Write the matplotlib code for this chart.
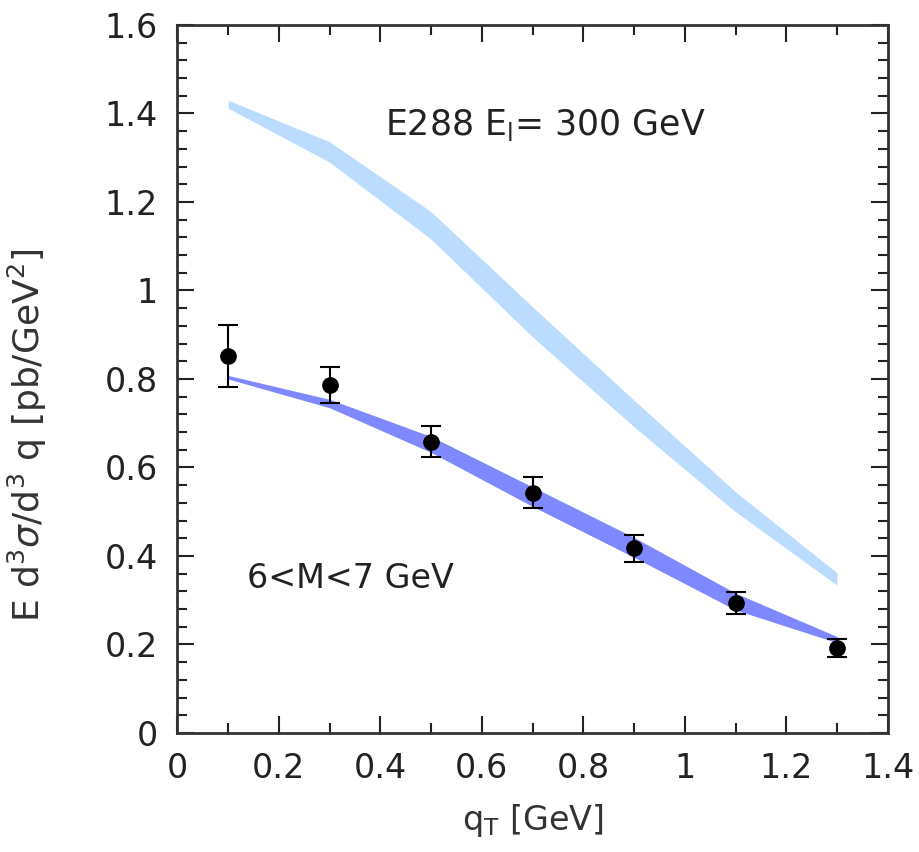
import matplotlib
matplotlib.use("Agg")
import matplotlib.pyplot as plt
from matplotlib.ticker import MultipleLocator, FuncFormatter

# data points (E288, 6<M<7 GeV)
qt = [0.1, 0.3, 0.5, 0.7, 0.9, 1.1, 1.3]
xsec = [0.852, 0.786, 0.658, 0.543, 0.417, 0.294, 0.192]
err = [0.070, 0.040, 0.035, 0.035, 0.030, 0.025, 0.020]

# theory band (dark)
band_lo = [0.800, 0.735, 0.634, 0.512, 0.397, 0.278, 0.204]
band_hi = [0.808, 0.754, 0.670, 0.556, 0.442, 0.316, 0.218]

# shifted band (light)
light_lo = [1.412, 1.290, 1.116, 0.895, 0.692, 0.500, 0.334]
light_hi = [1.430, 1.336, 1.178, 0.963, 0.752, 0.545, 0.362]

fig = plt.figure(figsize=(9.19, 8.52), dpi=100)
ax = fig.add_axes([0.193, 0.1397, 0.773, 0.831])

ax.fill_between(qt, light_lo, light_hi, color='#bcdcff', lw=0)
ax.fill_between(qt, band_lo, band_hi, color='#8088ff', lw=0)
ax.errorbar(qt, xsec, yerr=err, fmt='o', color='black', ms=11,
            elinewidth=1.5, capsize=7, capthick=1.5)

ax.set_xlim(0, 1.4)
ax.set_ylim(0, 1.6)
fmt = FuncFormatter(lambda v, p: '%g' % round(v, 2))
ax.xaxis.set_major_locator(MultipleLocator(0.2))
ax.xaxis.set_minor_locator(MultipleLocator(0.1))
ax.yaxis.set_major_locator(MultipleLocator(0.2))
ax.yaxis.set_minor_locator(MultipleLocator(0.04))
ax.xaxis.set_major_formatter(fmt)
ax.yaxis.set_major_formatter(fmt)
ax.tick_params(which='both', direction='in', top=True, right=True,
               labelsize=24, colors='#222222')
ax.tick_params(axis='x', pad=14)
ax.tick_params(axis='y', pad=14)
ax.tick_params(which='major', length=12, width=1.5)
ax.tick_params(which='minor', length=7, width=1.5)
for s in ax.spines.values():
    s.set_linewidth(2)
    s.set_color('#333333')

ax.set_xlabel(r'q$_\mathrm{T}$ [GeV]', fontsize=24, color='#333333', labelpad=12)
ax.set_ylabel(r'E d$^3\sigma$/d$^3$ q [pb/GeV$^2$]', fontsize=26, color='#333333')
ax.yaxis.set_label_coords(-0.18, 0.42)
ax.text(0.41, 1.374, r'E288 E$_\mathrm{l}$= 300 GeV', fontsize=25, color='#222222',
        va='center')
ax.text(0.138, 0.35, '6<M<7 GeV', fontsize=24, color='#222222', va='center')

fig.savefig('out.png', dpi=100)
